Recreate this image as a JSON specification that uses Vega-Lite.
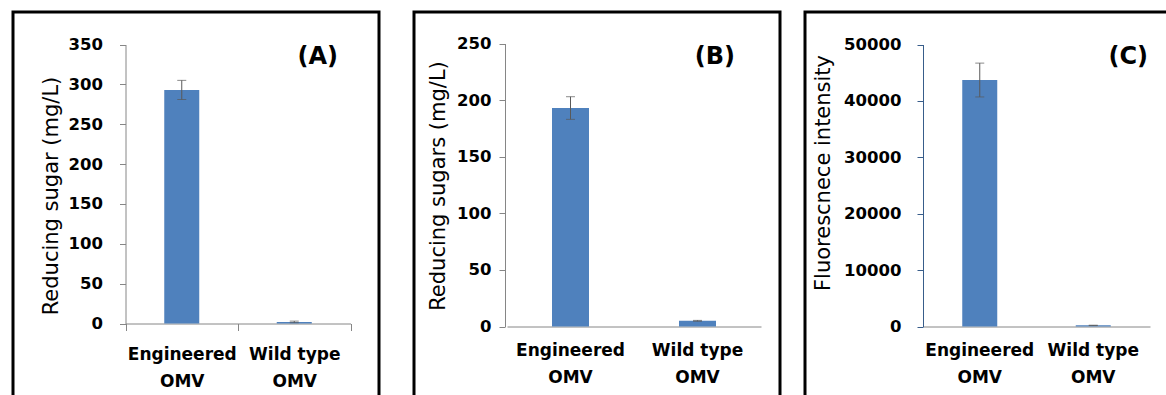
{
  "$schema": "https://vega.github.io/schema/vega-lite/v6.json",
  "padding": {"left": 11, "top": 10, "right": 0, "bottom": 0},
  "background": "white",
  "config": {
    "view": {"stroke": "black", "strokeWidth": 3},
    "font": "DejaVu Sans",
    "axis": {
      "domainColor": "#868686",
      "tickColor": "#868686",
      "labelColor": "black",
      "labelFont": "DejaVu Sans",
      "labelFontWeight": "bold",
      "labelFontSize": 16.5,
      "titleFont": "DejaVu Sans",
      "titleFontWeight": "normal",
      "titleFontSize": 21,
      "titleColor": "black",
      "grid": false
    },
    "title": {"font": "DejaVu Sans", "fontWeight": "bold", "fontSize": 24, "color": "black", "anchor": "end", "frame": "group"}
  },
  "datasets": {
    "a": [
      {"cat": "Engineered OMV", "v": 293, "lo": 281, "hi": 305},
      {"cat": "Wild type OMV", "v": 2, "lo": 1, "hi": 3}
    ],
    "b": [
      {"cat": "Engineered OMV", "v": 193, "lo": 183, "hi": 203},
      {"cat": "Wild type OMV", "v": 5, "lo": 4.6, "hi": 5.4}
    ],
    "c": [
      {"cat": "Engineered OMV", "v": 43700, "lo": 40700, "hi": 46700},
      {"cat": "Wild type OMV", "v": 200, "lo": 170, "hi": 230}
    ]
  },
  "spacing": 31,
  "hconcat": [
    {
      "width": 366,
      "height": 400,
      "data": {"name": "a"},
      "title": {"text": "(A)", "offset": -57, "dx": -41},
      "encoding": {
        "x": {
          "field": "cat", "type": "nominal", "sort": null,
          "scale": {"type": "band", "range": [112.5, 337.5], "paddingInner": 0, "paddingOuter": 0},
          "axis": {"title": null, "orient": "bottom", "offset": -88.5, "labelAngle": 0, "tickBand": "extent", "tickSize": 7,
                   "labelFontSize": 17,
                   "labelExpr": "datum.label ? [replace(datum.label, ' OMV', ''), 'OMV'] : ''", "labelLineHeight": 27, "labelPadding": 16}
        }
      },
      "layer": [
        {
          "mark": {"type": "bar", "size": 35, "color": "#4f81bd"},
          "encoding": {
            "y": {"field": "v", "type": "quantitative", "title": "Reducing sugar (mg/L)",
                  "scale": {"domain": [0, 350], "nice": false, "range": [311.5, 32.5]},
                  "axis": {"offset": -112.5, "values": [0, 50, 100, 150, 200, 250, 300, 350], "tickSize": 6, "labelPadding": 17, "titlePadding": 7, "titleY": 183.5}}
          }
        },
        {
          "mark": {"type": "errorbar", "ticks": {"size": 9}, "color": "#595959", "thickness": 1},
          "encoding": {
            "y": {"field": "lo", "type": "quantitative", "title": "Reducing sugar (mg/L)"},
            "y2": {"field": "hi"}
          }
        }
      ]
    },
    {
      "spacing": 21,
      "hconcat": [
        {
          "width": 366,
          "height": 400,
          "data": {"name": "b"},
          "title": {"text": "(B)", "offset": -57, "dx": -45},
          "encoding": {
            "x": {
              "field": "cat", "type": "nominal", "sort": null,
              "scale": {"type": "band", "range": [93, 347], "paddingInner": 0, "paddingOuter": 0},
              "axis": {"title": null, "orient": "bottom", "offset": -85.5, "labelAngle": 0, "ticks": false,
                       "labelFontSize": 17,
                       "labelExpr": "datum.label ? [replace(datum.label, ' OMV', ''), 'OMV'] : ''", "labelLineHeight": 27, "labelPadding": 16}
            }
          },
          "layer": [
            {
              "mark": {"type": "bar", "size": 37, "color": "#4f81bd"},
              "encoding": {
                "y": {"field": "v", "type": "quantitative", "title": "Reducing sugars (mg/L)",
                      "scale": {"domain": [0, 250], "nice": false, "range": [314.5, 31.5]},
                      "axis": {"offset": -91, "values": [0, 50, 100, 150, 200, 250], "tickSize": 6, "labelPadding": 8, "titlePadding": 8, "titleY": 173.5}}
              }
            },
            {
              "mark": {"type": "errorbar", "ticks": {"size": 9}, "color": "#595959", "thickness": 1},
              "encoding": {
                "y": {"field": "lo", "type": "quantitative", "title": "Reducing sugars (mg/L)"},
                "y2": {"field": "hi"}
              }
            }
          ]
        },
        {
          "width": 366,
          "height": 400,
          "data": {"name": "c"},
          "title": {"text": "(C)", "offset": -57, "dx": -23},
          "encoding": {
            "x": {
              "field": "cat", "type": "nominal", "sort": null,
              "scale": {"type": "band", "range": [118, 345], "paddingInner": 0, "paddingOuter": 0},
              "axis": {"title": null, "orient": "bottom", "offset": -85.5, "labelAngle": 0, "ticks": false,
                       "labelFontSize": 17,
                       "labelExpr": "datum.label ? [replace(datum.label, ' OMV', ''), 'OMV'] : ''", "labelLineHeight": 27, "labelPadding": 16}
            }
          },
          "layer": [
            {
              "mark": {"type": "bar", "size": 35, "color": "#4f81bd"},
              "encoding": {
                "y": {"field": "v", "type": "quantitative", "title": "Fluorescnece intensity",
                      "scale": {"domain": [0, 50000], "nice": false, "range": [314.5, 32.5]},
                      "axis": {"offset": -118, "values": [0, 10000, 20000, 30000, 40000, 50000], "format": "d", "tickSize": 6, "labelPadding": 16, "titlePadding": 10, "titleY": 160.5, "domainColor": "#385d8a", "tickColor": "#385d8a"}}
              }
            },
            {
              "mark": {"type": "errorbar", "ticks": {"size": 9}, "color": "#595959", "thickness": 1},
              "encoding": {
                "y": {"field": "lo", "type": "quantitative", "title": "Fluorescnece intensity"},
                "y2": {"field": "hi"}
              }
            }
          ]
        }
      ]
    }
  ]
}
